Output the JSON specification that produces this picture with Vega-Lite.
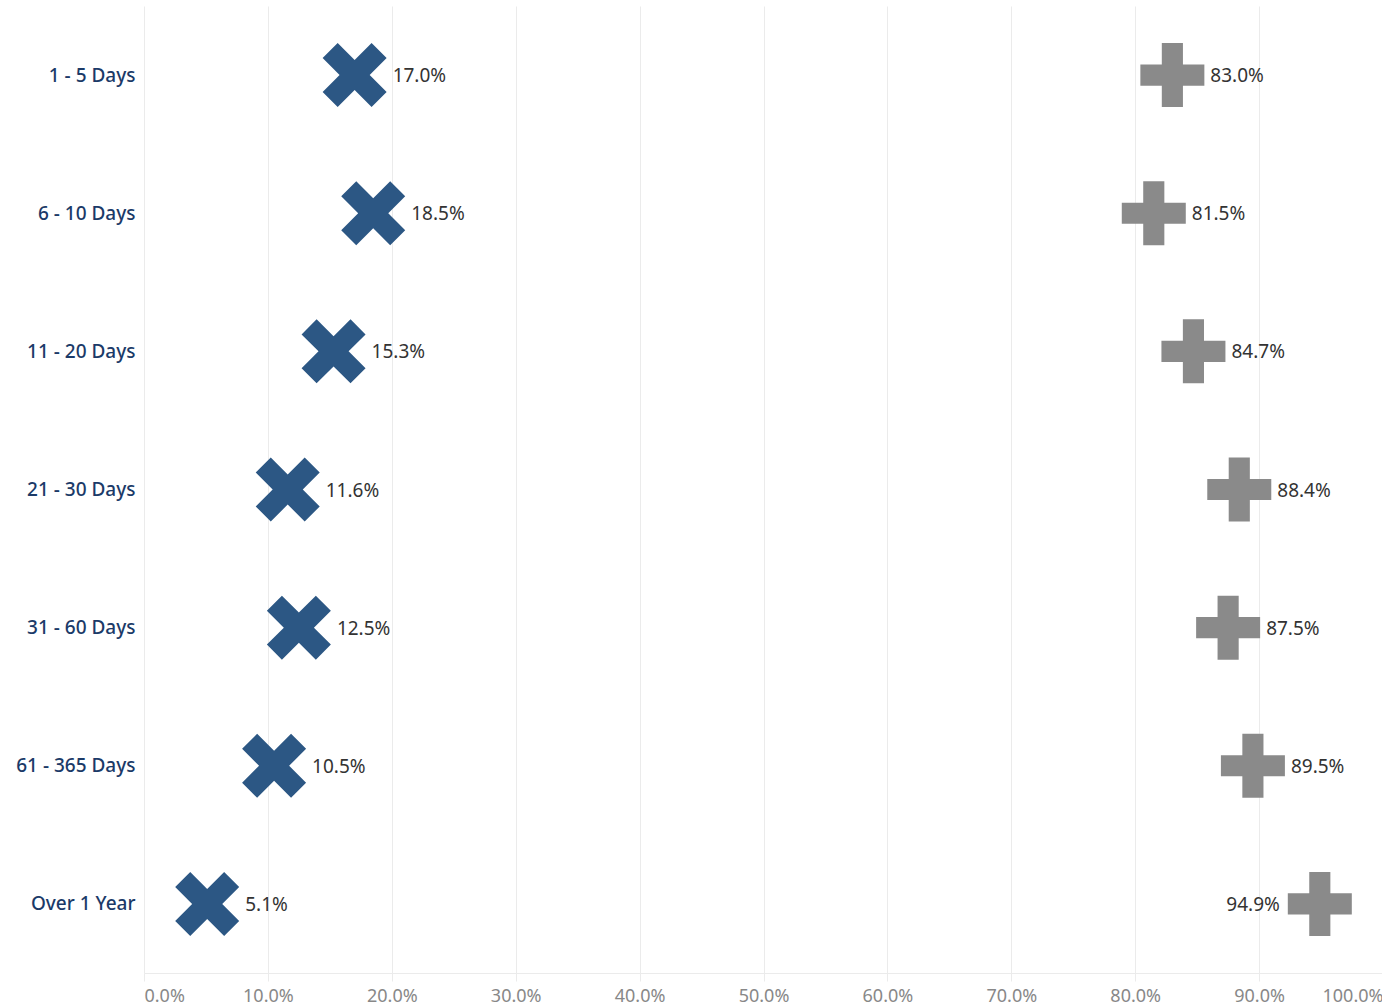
{
  "$schema": "https://vega.github.io/schema/vega-lite/v6.json",
  "width": 1239,
  "height": 967,
  "autosize": {"type": "none"},
  "padding": {"left": 144, "top": 6, "right": 0, "bottom": 35},
  "background": "white",
  "config": {"view": {"stroke": null}, "font": "Noto Sans"},
  "data": {
    "values": [
      {"range": "1 - 5 Days", "series": "Group A", "value": 0.170},
      {"range": "1 - 5 Days", "series": "Group B", "value": 0.830},
      {"range": "6 - 10 Days", "series": "Group A", "value": 0.185},
      {"range": "6 - 10 Days", "series": "Group B", "value": 0.815},
      {"range": "11 - 20 Days", "series": "Group A", "value": 0.153},
      {"range": "11 - 20 Days", "series": "Group B", "value": 0.847},
      {"range": "21 - 30 Days", "series": "Group A", "value": 0.116},
      {"range": "21 - 30 Days", "series": "Group B", "value": 0.884},
      {"range": "31 - 60 Days", "series": "Group A", "value": 0.125},
      {"range": "31 - 60 Days", "series": "Group B", "value": 0.875},
      {"range": "61 - 365 Days", "series": "Group A", "value": 0.105},
      {"range": "61 - 365 Days", "series": "Group B", "value": 0.895},
      {"range": "Over 1 Year", "series": "Group A", "value": 0.051},
      {"range": "Over 1 Year", "series": "Group B", "value": 0.949}
    ]
  },
  "encoding": {
    "y": {
      "field": "range",
      "type": "nominal",
      "sort": ["1 - 5 Days", "6 - 10 Days", "11 - 20 Days", "21 - 30 Days", "31 - 60 Days", "61 - 365 Days", "Over 1 Year"],
      "title": null,
      "scale": {"type": "point", "padding": 0.5},
      "axis": {
        "domain": false,
        "ticks": false,
        "grid": false,
        "labelPadding": 9,
        "labelFontSize": 19,
        "labelFontWeight": 500,
        "labelColor": "#1b3a68",
        "labelFont": "Noto Sans"
      }
    },
    "x": {
      "field": "value",
      "type": "quantitative",
      "title": null,
      "scale": {"domain": [0, 1], "nice": false, "zero": true},
      "axis": {
        "values": [0, 0.1, 0.2, 0.3, 0.4, 0.5, 0.6, 0.7, 0.8, 0.9, 1.0],
        "format": ".1%",
        "grid": true,
        "gridColor": "#ebebeb",
        "domainColor": "#ebebeb",
        "tickColor": "#ebebeb",
        "tickSize": 8,
        "labelFlush": true,
        "labelColor": "#888888",
        "labelFontSize": 18,
        "labelPadding": 6
      }
    }
  },
  "layer": [
    {
      "mark": {"type": "point", "filled": true, "opacity": 1, "size": 4096, "strokeWidth": 0},
      "encoding": {
        "shape": {
          "field": "series",
          "type": "nominal",
          "scale": {
            "domain": ["Group A", "Group B"],
            "range": [
              "M-0.53,-1L0,-0.47L0.53,-1L1,-0.53L0.47,0L1,0.53L0.53,1L0,0.47L-0.53,1L-1,0.53L-0.47,0L-1,-0.53Z",
              "M-0.33,-1L0.33,-1L0.33,-0.33L1,-0.33L1,0.33L0.33,0.33L0.33,1L-0.33,1L-0.33,0.33L-1,0.33L-1,-0.33L-0.33,-0.33Z"
            ]
          },
          "legend": null
        },
        "color": {
          "field": "series",
          "type": "nominal",
          "scale": {"domain": ["Group A", "Group B"], "range": ["#2c5784", "#8a8a8a"]},
          "legend": null
        }
      }
    },
    {
      "transform": [{"filter": "datum.value < 0.9"}],
      "mark": {"type": "text", "align": "left", "baseline": "middle", "dx": 38, "dy": 1, "fontSize": 19, "color": "#333333"},
      "encoding": {"text": {"field": "value", "type": "quantitative", "format": ".1%"}}
    },
    {
      "transform": [{"filter": "datum.value >= 0.9"}],
      "mark": {"type": "text", "align": "right", "baseline": "middle", "dx": -40, "dy": 1, "fontSize": 19, "color": "#333333"},
      "encoding": {"text": {"field": "value", "type": "quantitative", "format": ".1%"}}
    }
  ]
}
